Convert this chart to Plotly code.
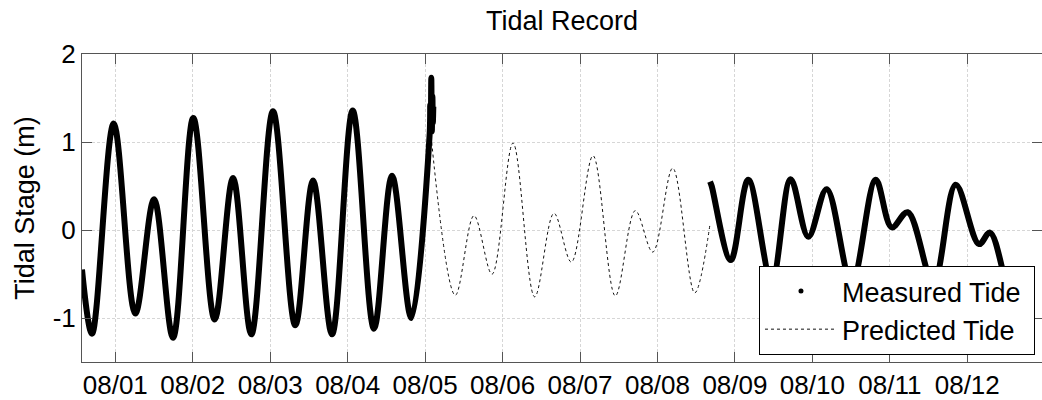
import pandas as pd
import plotly.graph_objects as go

# ---- data (days since 08/01 00:00, tidal stage in metres) ----
measured1_days = [-0.43, -0.301, -0.021, 0.258, 0.500, 0.745, 1.007, 1.283, 1.520, 1.756,
                  2.036, 2.324, 2.553, 2.798, 3.065, 3.340, 3.573, 3.822,
                  4.058, 4.066, 4.073, 4.080, 4.087, 4.094, 4.100, 4.106]
measured1_level = [-0.45, -1.178, 1.209, -0.950, 0.350, -1.224, 1.273, -1.018, 0.590, -1.186,
                   1.350, -1.083, 0.562, -1.186, 1.357, -1.121, 0.616, -1.000,
                   1.08, 1.42, 1.18, 1.73, 1.12, 1.52, 1.22, 1.40]

predicted_days = [4.070, 4.390, 4.631, 4.864, 5.135, 5.415, 5.664, 5.888, 6.168,
                  6.456, 6.714, 6.939, 7.197, 7.481, 7.675]
predicted_level = [1.13, -0.741, 0.163, -0.502, 0.988, -0.760, 0.190, -0.365, 0.844,
                   -0.749, 0.220, -0.251, 0.703, -0.715, 0.046]

measured2_days = [7.679, 7.700, 7.946, 8.173, 8.475, 8.720, 8.948, 9.185, 9.508, 9.818,
                  10.025, 10.231, 10.562, 10.851, 11.152, 11.294, 11.620, 11.800]
measured2_level = [0.55, 0.50, -0.342, 0.570, -0.580, 0.578, -0.076, 0.464, -0.600, 0.570,
                   0.030, 0.202, -0.600, 0.513, -0.160, -0.030, -0.850, -0.800]

tick_days = list(range(0, 12))
tick_labels = ["08/%02d" % (d + 1) for d in tick_days]

base = pd.Timestamp("2014-08-01 00:00")


def to_dt(days):
    return [base + pd.to_timedelta(d, unit="D") for d in days]


FONT = "Liberation Sans, Arial, Helvetica, sans-serif"
AX = "#555555"
GRID = "#d6d6d6"

fig = go.Figure()

# legend-only entry for the measured (dot) series
fig.add_trace(go.Scatter(x=[None], y=[None], mode="markers", name="Measured Tide\u00a0",
                         marker=dict(size=5, color="black")))

fig.add_trace(go.Scatter(x=to_dt(predicted_days), y=predicted_level, mode="lines",
                         name="Predicted Tide\u00a0",
                         line=dict(color="#111111", width=1, dash="dot", shape="spline")))

for dd, lv in [(measured1_days, measured1_level), (measured2_days, measured2_level)]:
    fig.add_trace(go.Scatter(x=to_dt(dd), y=lv, mode="lines", showlegend=False,
                             line=dict(color="black", width=6, shape="spline")))

fig.update_layout(
    width=1042, height=400,
    margin=dict(l=82, r=0, t=54, b=38, pad=0),
    paper_bgcolor="white", plot_bgcolor="white",
    font=dict(family=FONT, size=26, color="black"),
    title=dict(text="Tidal Record", x=0.5, xref="paper", xanchor="center",
               y=1 - 21 / 400, yref="container", yanchor="middle",
               font=dict(size=27, family=FONT, color="black")),
    showlegend=True,
    legend=dict(x=0.9927, y=0.0227, xanchor="right", yanchor="bottom",
                bgcolor="white", bordercolor="black", borderwidth=1,
                font=dict(size=27, family=FONT, color="black"),
                itemwidth=72, tracegroupgap=0),
)

fig.update_xaxes(
    type="date",
    range=to_dt([-0.43, 11.965]),
    tickvals=to_dt(tick_days), ticktext=tick_labels,
    ticks="inside", ticklen=10, tickcolor=AX, tickwidth=1,
    showline=True, linecolor=AX, linewidth=1, mirror="ticks",
    showgrid=True, gridcolor=GRID, griddash="3px,2px", gridwidth=1,
    zeroline=False, tickfont=dict(size=26, family=FONT, color="black"),
)
fig.update_yaxes(
    range=[-1.5, 2],
    tickvals=[-1, 0, 1, 2], ticktext=["-1", "0", "1", "2"],
    ticks="inside", ticklen=10, tickcolor=AX, tickwidth=1,
    showline=True, linecolor=AX, linewidth=1, mirror="ticks",
    showgrid=True, gridcolor=GRID, griddash="3px,2px", gridwidth=1,
    zeroline=False, tickfont=dict(size=26, family=FONT, color="black"),
    title=dict(text="Tidal Stage (m)", font=dict(size=27, family=FONT, color="black"),
               standoff=10),
)

fig.write_html("out.html")
